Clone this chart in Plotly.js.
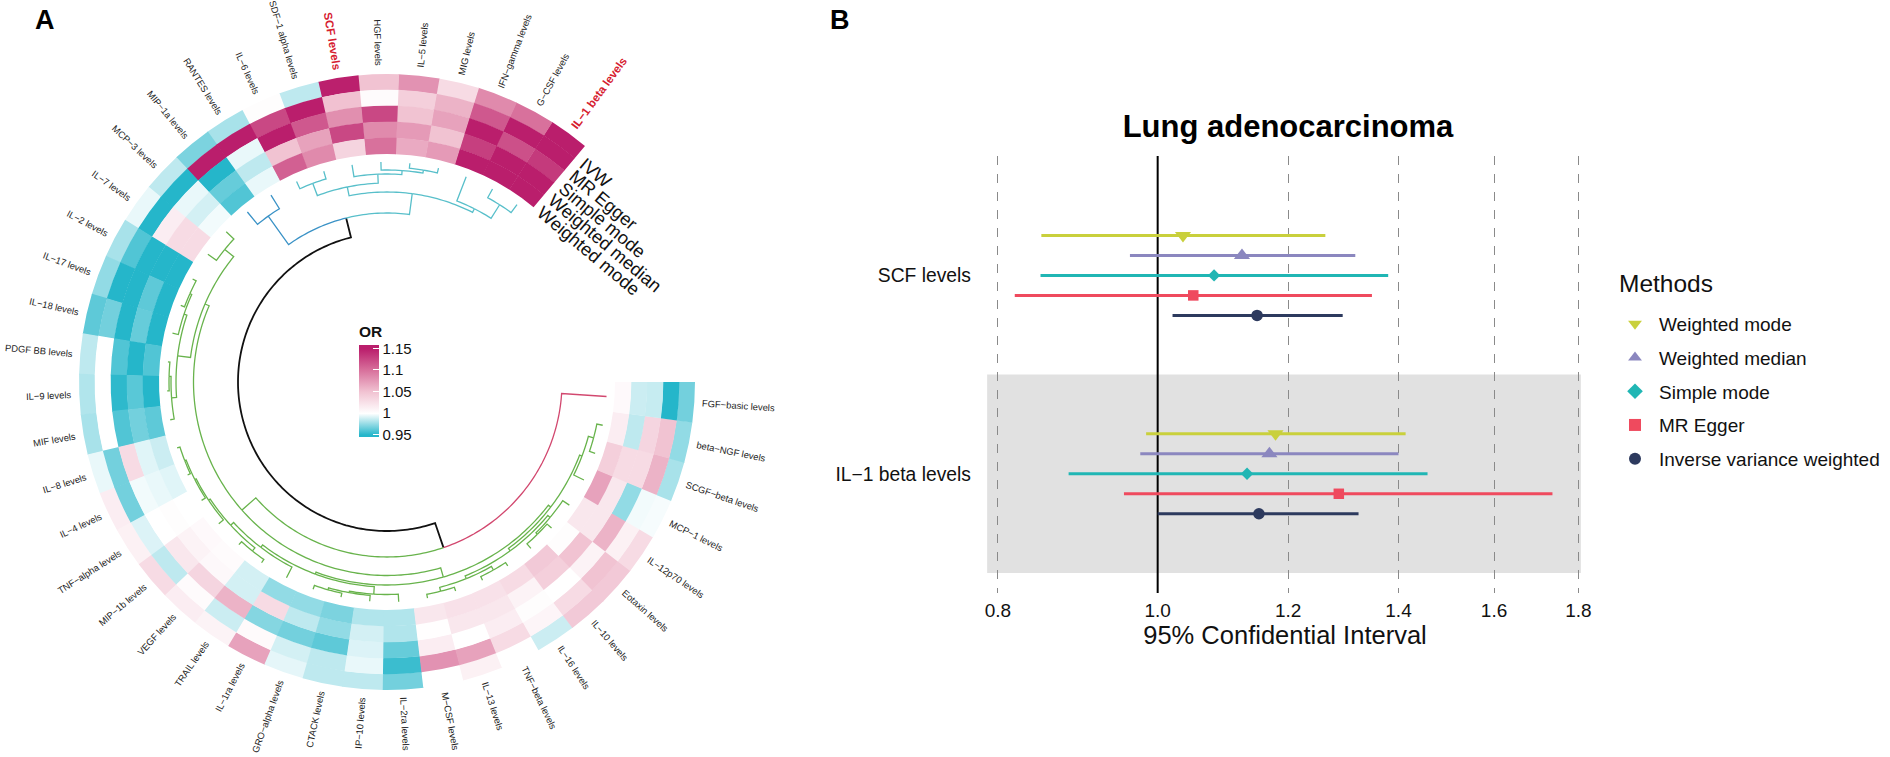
<!DOCTYPE html>
<html><head><meta charset="utf-8">
<script src="https://cdn.plot.ly/plotly-3.0.1.min.js"></script>
<style>html,body{margin:0;padding:0;background:#fff}#chart{width:1890px;height:757px}</style>
</head><body><div id="chart"></div>
<script>
const W=1890,H=757,FONT='"Liberation Sans",Arial,sans-serif';
const cytokines=["IL−1 beta levels","G−CSF levels","IFN−gamma levels","MIG levels","IL−5 levels","HGF levels","SCF levels","SDF−1 alpha levels","IL−6 levels","RANTES levels","MIP−1a levels","MCP−3 levels","IL−7 levels","IL−2 levels","IL−17 levels","IL−18 levels","PDGF BB levels","IL−9 levels","MIF levels","IL−8 levels","IL−4 levels","TNF−alpha levels","MIP−1b levels","VEGF levels","TRAIL levels","IL−1ra levels","GRO−alpha levels","CTACK levels","IP−10 levels","IL−2ra levels","M−CSF levels","IL−13 levels","TNF−beta levels","IL−16 levels","IL−10 levels","Eotaxin levels","IL−12p70 levels","MCP−1 levels","SCGF−beta levels","beta−NGF levels","FGF−basic levels"];
const highlighted=["IL−1 beta levels","SCF levels"];
const trackNames=["IVW","MR Egger","Simple mode","Weighted median","Weighted mode"];
const ivwOR=[1.152,1.10,1.085,1.03,1.08,1.05,1.149,.985,1.002,.98,.97,.985,.995,.98,.975,.963,.985,.982,.98,.995,1.015,1.012,1.03,1.015,1.01,1.07,.994,.985,.985,.968,1.0,1.012,1.0,.988,1.045,1.045,1.03,.998,.98,.975,.968];
const eggerOR=[1.288,1.15,1.115,1.06,1.04,1.003,1.051,1.15,1.125,1.15,1.15,.95,.95,.96,.95,.968,1.0,1.0,1.0,.968,.968,.992,.985,1.003,.988,1.004,.99,.985,.995,.955,1.08,1.07,1.03,1.008,1.03,1.05,1.012,.997,1.06,1.05,.95];
const simpleOR=[1.133,1.12,1.15,1.07,1.05,1.125,1.082,1.115,1.16,.995,.95,.995,1.015,.95,.95,.95,.96,.952,.96,1.03,.997,1.0,1.02,1.035,1.06,.972,.968,.963,.992,.965,1.015,1.0,1.015,1.002,1.0,1.01,1.06,.975,1.03,1.035,.987];
const medianOR=[1.169,1.15,1.13,1.05,1.075,1.085,1.125,1.07,1.05,.985,.965,.99,1.03,.95,.963,.965,.95,.962,.968,.993,.995,1.002,1.01,1.006,.99,1.03,.985,.975,.99,.982,1.001,1.02,1.02,1.01,1.04,1.05,1.02,1.02,1.03,.985,.988];
const modeOR=[1.179,1.16,1.16,1.075,1.065,1.10,1.036,1.085,1.11,.995,.96,.997,1.03,.95,.95,.95,.96,.95,.963,.988,.993,1.0,1.005,1.003,.99,.975,.975,.97,.982,.982,1.02,1.025,1.025,1.03,1.045,1.002,1.02,1.07,1.04,1.015,1.005];
const trackValues=[ivwOR,eggerOR,simpleOR,medianOR,modeOR];
const scaleStops=[[.95,"#25b6ca"],[1,"#ffffff"],[1.05,"#f1c3d2"],[1.1,"#d8719c"],[1.15,"#ba1e6c"]];
const legendTicks=[.95,1,1.05,1.1,1.15];
// dendrogram: [merge radius, left, right, colour key]; numbers are leaves (sector index)
const blueTree=[204,9,10,"blue"];
const tealTree=[190,[199,[212,8,7],[208,6,[212,5,[215,4,3]]]],[194,2,[210,1,0]],"teal"];
const groupLeft=[198,[209.5,11,12],[211,[214,[216,13,14],15],[216,[218,16,17],18]]];
const groupMid=[205,[208,[212,[214,[215.5,[217,19,20],21],22],[216,23,24]],25],[212.5,[214,[216,26,27],28],29]];
const groupRight=[206,[209,[212,[216,30,31],[216,32,33]],[212,[214,34,35],36]],[208.6,37,[214,38,39]]];
const greenTree=[193.5,groupLeft,[203,groupMid,groupRight],"green"];
const dendrogram=[149,[169,blueTree,tealTree,"black"],[175,greenTree,40,"black"],"black"];
const leafColours={40:"red"};
const branchColours={black:"#111111",blue:"#3a92c6",teal:"#58bfca",green:"#68b34c",red:"#d2486f"};
const forestMethods=["Weighted mode","Weighted median","Simple mode","MR Egger","Inverse variance weighted"];
const forestColours=["#c9d03c","#8b87bf","#20b6b4","#ef4a5e","#2d3a5e"];
const forestSymbols=["triangle-down","triangle-up","diamond","square","circle"];
const forestSizes=[14,14,9.5,10.5,11.5];
const forestExposures=["IL−1 beta levels","SCF levels"];
const forestOR={ "Weighted mode":[1.179,1.036],"Weighted median":[1.169,1.125],"Simple mode":[1.133,1.082],"MR Egger":[1.288,1.051],"Inverse variance weighted":[1.152,1.149]};
const forestLow={ "Weighted mode":[.984,.85],"Weighted median":[.976,.962],"Simple mode":[.883,.849],"MR Egger":[.954,.819],"Inverse variance weighted":[1.0,1.021]};
const forestHigh={ "Weighted mode":[1.414,1.264],"Weighted median":[1.40,1.318],"Simple mode":[1.458,1.38],"MR Egger":[1.736,1.349],"Inverse variance weighted":[1.324,1.295]};
const forestTicks=[.8,1,1.2,1.4,1.6,1.8];

// geometry of the circular panel (pixels)
const CX=387,CY=382,RMAX=340,R0=228,TRACK=16,START=50,SWEEP=310,LEAF=220;
const STEP=SWEEP/cytokines.length;
const centre=i=>START+(i+.5)*STEP;
const px=x=>x/W, py=y=>1-y/H;
const pol=(r,t)=>[CX+r*Math.cos(t*Math.PI/180),CY-r*Math.sin(t*Math.PI/180)];
const CMIN=.9455,CMAX=1.159;
const norm=v=>Math.max(0,Math.min(1,(v-CMIN)/(CMAX-CMIN)));
const colorscale=[[0,scaleStops[0][1]]].concat(scaleStops.map(s=>[norm(s[0]),s[1]])).concat([[1,scaleStops[4][1]]]);

const thetas=[],bases=[],widths=[],thick=[],vals=[];
// inner tracks are drawn last and bars overlap a hair so no seams show between cells
trackValues.forEach((arr,k)=>arr.forEach((v,i)=>{thetas.push(centre(i));bases.push(R0+(4-k)*TRACK);thick.push(k===0?TRACK:TRACK+.35);widths.push(i===0||i===cytokines.length-1?STEP:STEP+.12);vals.push(v);}));
const heat={type:"barpolar",subplot:"polar",theta:thetas,r:thick,base:bases,width:widths,showlegend:false,hoverinfo:"skip",
 marker:{color:vals,cmin:CMIN,cmax:CMAX,colorscale:colorscale,line:{width:0},
  colorbar:{x:px(359),xanchor:"left",xpad:0,y:py(322.5),yanchor:"top",ypad:0,lenmode:"pixels",len:114,thicknessmode:"pixels",thickness:20,
   outlinewidth:0,tickvals:legendTicks,ticktext:["0.95","1","1.05","1.1","1.15"],ticks:"inside",ticklen:6,tickcolor:"#fff",tickwidth:1,
   tickfont:{family:FONT,size:15,color:"#111"},title:{text:"<b>OR</b>",side:"top",font:{family:FONT,size:15.5,color:"#111"}}}}};

// dendrogram traces
const segs={};Object.keys(branchColours).forEach(k=>segs[k]={r:[],t:[]});
const isLeaf=n=>typeof n==="number";
const thetaOf=n=>isLeaf(n)?centre(n):(thetaOf(n[1])+thetaOf(n[2]))/2;
const heightOf=n=>isLeaf(n)?LEAF:n[0];
function draw(n,colour){
 if(isLeaf(n))return;
 const c=n[3]||colour,t0=thetaOf(n);
 [n[1],n[2]].forEach(ch=>{
  const cc=isLeaf(ch)?(leafColours[ch]||c):(ch[3]||c),t1=thetaOf(ch),s=segs[cc];
  const steps=Math.max(1,Math.ceil(Math.abs(t1-t0)));
  for(let j=0;j<=steps;j++){s.r.push(n[0]);s.t.push(t0+(t1-t0)*j/steps);}
  s.r.push(heightOf(ch));s.t.push(t1);s.r.push(null);s.t.push(null);
  draw(ch,cc);
 });
}
draw(dendrogram,"black");
const dendroTraces=Object.keys(segs).map(k=>({type:"scatterpolar",subplot:"polar",mode:"lines",r:segs[k].r,theta:segs[k].t,connectgaps:false,
 line:{color:branchColours[k],width:k==="black"?1.8:1.3},showlegend:false,hoverinfo:"skip"}));

// forest plot
const yLow=.399,yHigh=2.602;
const refLine={type:"scatter",mode:"lines",xaxis:"x",yaxis:"y",x:[1,1],y:[yLow,yHigh],line:{color:"#000",width:2},showlegend:false,hoverinfo:"skip"};
const dodge=[.2016,.1008,0,-.1008,-.2016];
const forestTraces=forestMethods.map((m,k)=>({type:"scatter",mode:"markers",xaxis:"x",yaxis:"y",name:m,legendgroup:m,
 x:forestOR[m],y:forestExposures.map((e,j)=>j+1+dodge[k]),
 marker:{symbol:forestSymbols[k],color:forestColours[k],size:forestSizes[k],line:{width:0}},
 error_x:{type:"data",symmetric:false,array:forestOR[m].map((v,j)=>forestHigh[m][j]-v),arrayminus:forestOR[m].map((v,j)=>v-forestLow[m][j]),color:forestColours[k],thickness:3,width:0},
 hoverinfo:"skip"}));

// text measuring for centred rotated labels
const ctx=document.createElement("canvas").getContext("2d");
const tw=(s,size,bold)=>{ctx.font=(bold?"bold ":"")+size+'px "Liberation Sans"';return ctx.measureText(s).width;};
const annotations=[];
cytokines.forEach((name,i)=>{
 const hi=highlighted.includes(name),size=hi?11.5:9.4,t=centre(i);
 const rc=316+tw(name,size,hi)/2,[x,y]=pol(rc,t);
 const right=Math.cos(t*Math.PI/180)>0;
 annotations.push({xref:"paper",yref:"paper",x:px(x),y:py(y),xanchor:"center",yanchor:"middle",showarrow:false,textangle:right?-t:180-t,
  text:hi?"<b>"+name+"</b>":name,font:{family:FONT,size:size,color:hi?"#d6202f":"#222"}});
});
trackNames.forEach((name,k)=>{
 const rt=R0+(4-k)*TRACK+TRACK/2-6,[sx,sy]=pol(rt,48.4),size=18.2,w=tw(name,size,false),ang=40*Math.PI/180;
 annotations.push({xref:"paper",yref:"paper",x:px(sx+w/2*Math.cos(ang)),y:py(sy+w/2*Math.sin(ang)),xanchor:"center",yanchor:"middle",showarrow:false,textangle:40,
  text:name,font:{family:FONT,size:size,color:"#111"}});
});
[["A",44.5],["B",840]].forEach(p=>annotations.push({xref:"paper",yref:"paper",x:px(p[1]),y:py(20),xanchor:"center",yanchor:"middle",showarrow:false,text:"<b>"+p[0]+"</b>",font:{family:FONT,size:27,color:"#000"}}));
annotations.push({xref:"paper",yref:"paper",x:px(1617),y:py(283),xanchor:"left",yanchor:"middle",showarrow:false,text:"Methods",font:{family:FONT,size:24.5,color:"#111"}});

const layout={width:W,height:H,margin:{l:0,r:0,t:0,b:0},paper_bgcolor:"#fff",plot_bgcolor:"rgba(0,0,0,0)",showlegend:true,font:{family:FONT},
 title:{text:"<b>Lung adenocarcinoma</b>",x:px(1288),xanchor:"center",y:py(126.5),yanchor:"middle",font:{family:FONT,size:31,color:"#000"}},
 polar:{domain:{x:[px(CX-RMAX),px(CX+RMAX)],y:[py(CY+RMAX),py(CY-RMAX)]},bgcolor:"rgba(0,0,0,0)",barmode:"overlay",
  radialaxis:{visible:false,range:[0,RMAX]},angularaxis:{visible:false,direction:"counterclockwise",rotation:0,thetaunit:"degrees"}},
 xaxis:{domain:[px(987),px(1583)],type:"log",range:[-0.10356,0.25809],tickvals:forestTicks,ticktext:forestTicks.map(v=>v.toFixed(1)),showgrid:true,griddash:"dash",gridcolor:"#8a8a8a",gridwidth:1,
  zeroline:false,showline:false,ticks:"",ticklabelstandoff:4,tickfont:{family:FONT,size:19,color:"#111"},title:{text:"95% Confidential Interval",standoff:6,font:{family:FONT,size:25.5,color:"#111"}},anchor:"y"},
 yaxis:{domain:[py(593),py(156)],range:[yLow,yHigh],tickvals:[1,2],ticktext:forestExposures.slice(),showgrid:false,zeroline:false,showline:false,ticks:"",ticklabelstandoff:15,tickfont:{family:FONT,size:19.3,color:"#111"},anchor:"x"},
 shapes:[{type:"rect",xref:"x",yref:"y",x0:.788,x1:1.8063,y0:.5,y1:1.5,fillcolor:"#e1e1e1",line:{width:0},layer:"below"}],
 legend:{x:px(1611),xanchor:"left",y:py(305),yanchor:"top",bgcolor:"rgba(0,0,0,0)",borderwidth:0,traceorder:"grouped",tracegroupgap:6,itemwidth:38,
  font:{family:FONT,size:19,color:"#111"},itemsizing:"constant"},
 annotations:annotations};
Plotly.newPlot("chart",[heat,refLine].concat(dendroTraces,forestTraces),layout,{displayModeBar:false,staticPlot:true});
</script></body></html>
